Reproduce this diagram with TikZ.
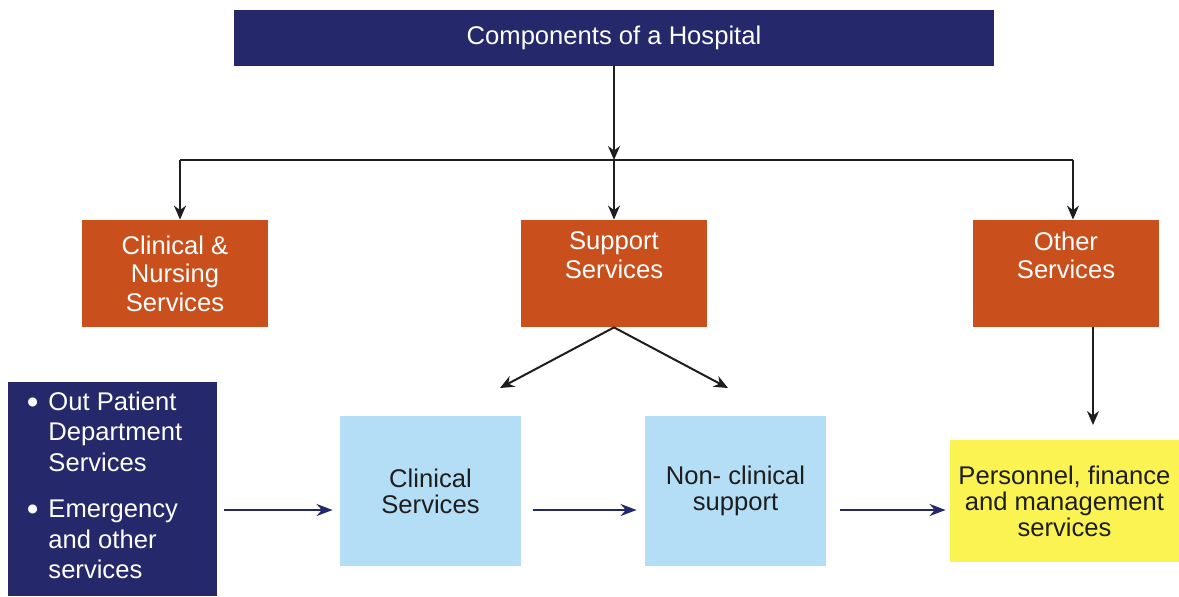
\documentclass[tikz,border=0pt]{standalone}
\usepackage{fontspec}
\setmainfont{Liberation Sans}
\usetikzlibrary{arrows.meta}
\definecolor{navy}{RGB}{37,40,107}
\definecolor{rust}{RGB}{201,80,28}
\definecolor{skyblue}{RGB}{180,222,245}
\definecolor{lemon}{RGB}{250,243,82}
\definecolor{ink}{RGB}{30,30,30}
\newcommand{\bigbullet}{\raisebox{-1.5pt}{\scalebox{1.3}{\textbullet}}}

\begin{document}
\begin{tikzpicture}[x=0.5pt,y=-0.5pt,
  box/.style={inner sep=0pt,align=center,font=\fontsize{12.8}{14.25}\selectfont},
  tight box/.style={box,font=\fontsize{12.8}{13}\selectfont},
  title node/.style={box,fill=navy,text=white,minimum width=380pt,minimum height=28pt},
  group node/.style={box,fill=rust,text=white,minimum width=93pt,minimum height=53.5pt},
  service node/.style={tight box,fill=skyblue,text=ink,minimum width=90.5pt,minimum height=75pt},
  black arrow/.style={-{Stealth[length=7pt,width=6pt]},line width=1pt,ink},
  blue arrow/.style={-{Stealth[length=8pt,width=6pt]},line width=1.3pt,navy}]
  \useasboundingbox (0,0) rectangle (1179,596);

  \node[title node] (hosp) at (614,38) {Components of a Hospital};
  \node[group node] (clin) at (175,273.5) {Clinical \&\\Nursing\\Services};
  \node[group node] (supp) at (614,273.5) {Support\\Services\\\strut};
  \node[group node] (oth) at (1066,273.5) {Other\\Services\\\strut};
  \node[box,fill=navy,text=white,minimum width=104.5pt,minimum height=107pt] (opd) at (112.5,489)
    {\begin{tabular}{@{}l@{\hspace{5pt}}l@{}}
      \bigbullet & Out Patient\\[1pt] & Department\\[1pt] & Services\\[9pt]
      \bigbullet & Emergency\\[1pt] & and other\\[1pt] & services
    \end{tabular}\hspace{8pt}};
  \node[service node] (cs) at (430.5,491) {Clinical\\Services};
  \node[service node] (ncs) at (735.5,491) {Non- clinical\\support};
  \node[tight box,fill=lemon,text=ink,minimum width=114.5pt,minimum height=61pt] (pfm) at (1064.5,501)
    {Personnel, finance\\and management\\services};

  \coordinate (j0) at (614,160);
  \coordinate (jl) at (180,160);
  \coordinate (jr) at (1073,160);
  \coordinate (sl) at (500,388);
  \coordinate (sr) at (728,388);
  \coordinate (od) at (1093,425);
  \coordinate (row) at (0,510);

  \draw[line width=1pt,ink] (jl) -- (jr);
  \path
  (hosp) [black arrow] edge (j0)
  (jl) [black arrow] edge (jl |- clin.north)
  (j0) [black arrow] edge (supp)
  (jr) [black arrow] edge (jr |- oth.north)
  (supp.south) [black arrow] edge (sl)
  (supp.south) [black arrow] edge (sr)
  (oth.south -| od) [black arrow] edge (od);
  \path
  ([xshift=3.5pt]opd.east |- row) [blue arrow] edge ([xshift=-3.5pt]cs.west |- row)
  ([xshift=6pt]cs.east |- row) [blue arrow] edge ([xshift=-4pt]ncs.west |- row)
  ([xshift=7pt]ncs.east |- row) [blue arrow] edge ([xshift=-2pt]pfm.west |- row);
\end{tikzpicture}
\end{document}
